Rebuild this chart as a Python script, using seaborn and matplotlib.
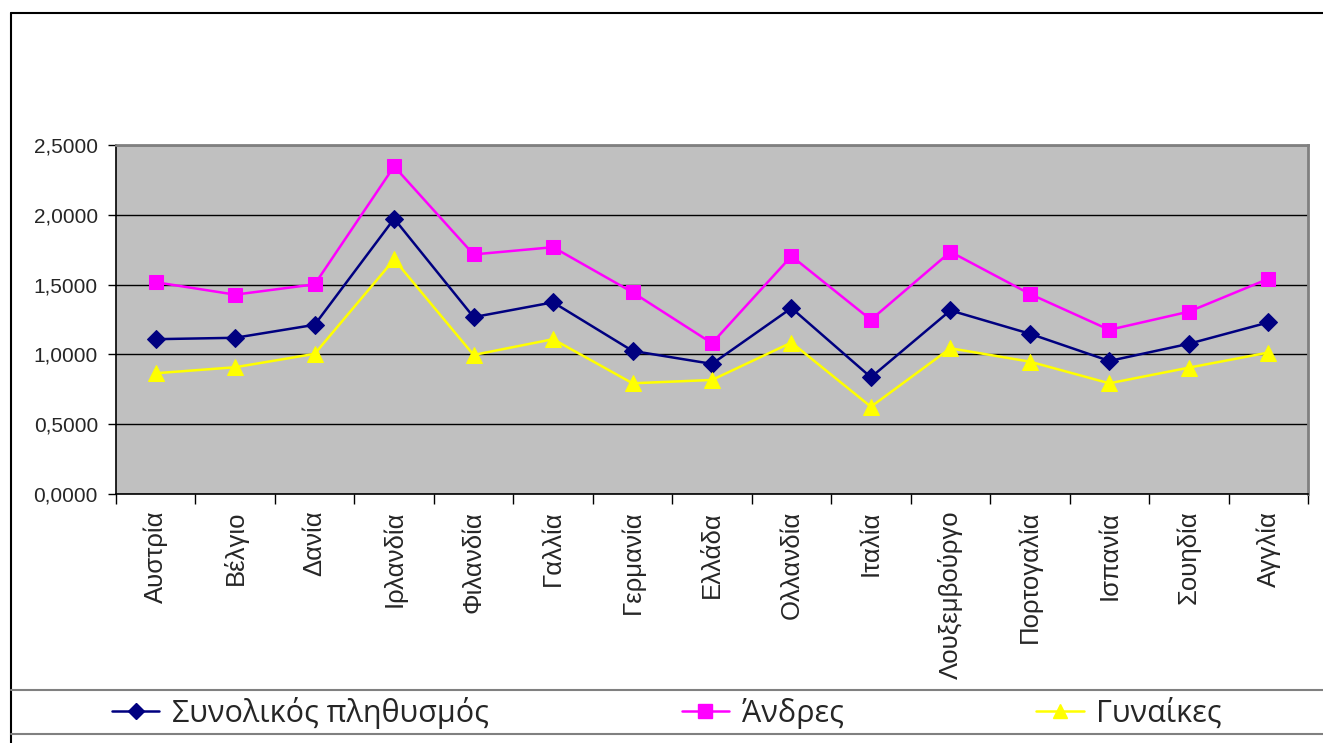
import matplotlib
matplotlib.use("Agg")
import matplotlib.pyplot as plt
import seaborn as sns
import pandas as pd
from matplotlib.lines import Line2D
from matplotlib.ticker import FuncFormatter

countries = ["Αυστρία", "Βέλγιο", "Δανία", "Ιρλανδία", "Φιλανδία", "Γαλλία",
             "Γερμανία", "Ελλάδα", "Ολλανδία", "Ιταλία", "Λουξεμβούργο",
             "Πορτογαλία", "Ισπανία", "Σουηδία", "Αγγλία"]
total = [1.109, 1.119, 1.212, 1.972, 1.267, 1.373, 1.025, 0.932, 1.332, 0.836,
         1.315, 1.148, 0.953, 1.076, 1.229]
men = [1.517, 1.428, 1.502, 2.347, 1.716, 1.768, 1.445, 1.080, 1.704, 1.248,
       1.735, 1.433, 1.176, 1.306, 1.541]
women = [0.865, 0.908, 1.004, 1.680, 0.996, 1.109, 0.793, 0.817, 1.085, 0.625,
         1.044, 0.948, 0.793, 0.905, 1.013]
series_names = ["Συνολικός πληθυσμός", "Άνδρες", "Γυναίκες"]
y_ticks = [0.0, 0.5, 1.0, 1.5, 2.0, 2.5]

sns.set_theme(style="white")
plt.rcParams['font.family'] = ['Liberation Sans', 'DejaVu Sans']

rows = []
for name, vals in zip(series_names, [total, men, women]):
    for i, (c, v) in enumerate(zip(countries, vals)):
        rows.append({"idx": i, "country": c, "value": v, "series": name})
df = pd.DataFrame(rows)

colors = {"Συνολικός πληθυσμός": "#000080", "Άνδρες": "#FF00FF", "Γυναίκες": "#FFFF00"}
markers = {"Συνολικός πληθυσμός": "D", "Άνδρες": "s", "Γυναίκες": "^"}
msizes = {"Συνολικός πληθυσμός": 9.5, "Άνδρες": 10.5, "Γυναίκες": 11.5}

fig = plt.figure(figsize=(13.23, 7.43), dpi=100)
ax = fig.add_axes([116/1323, 1-494/743, (1308-116)/1323, (494-145)/743])
ax.set_facecolor("#C0C0C0")

for name in series_names:
    sub = df[df.series == name]
    sns.lineplot(data=sub, x="idx", y="value", ax=ax, color=colors[name],
                 marker=markers[name], markersize=msizes[name],
                 markeredgecolor=colors[name], linewidth=1.8, legend=False)

ax.set_xlim(-0.5, len(countries) - 0.5)
ax.set_ylim(0, 2.5)
ax.set_yticks(y_ticks)
ax.yaxis.set_major_formatter(FuncFormatter(lambda v, p: f"{v:.4f}".replace(".", ",")))
ax.set_xticks(range(len(countries)))
ax.set_xticklabels(countries, rotation=90, fontsize=18.5)
ax.set_xticks([i - 0.5 for i in range(len(countries) + 1)], minor=True)
ax.tick_params(axis="x", which="major", length=0, pad=12)
ax.tick_params(axis="x", which="minor", length=7, width=1, color="black", direction="out", bottom=True)
ax.tick_params(axis="y", which="major", length=6, width=1, color="black", direction="out", left=True,
               labelsize=15, pad=7)
ax.set_xlabel("")
ax.set_ylabel("")
ax.grid(axis="y", color="black", linewidth=1)
ax.set_axisbelow(True)
for s in ["top", "right"]:
    ax.spines[s].set_color("#808080")
    ax.spines[s].set_linewidth(2)
for s in ["left", "bottom"]:
    ax.spines[s].set_color("black")
    ax.spines[s].set_linewidth(1.2)

# Outer frame and legend separators
fig.add_artist(Line2D([11/1323, 11/1323], [0, 1-13/743], color="black", linewidth=1.5, transform=fig.transFigure))
fig.add_artist(Line2D([11/1323, 1], [1-13/743, 1-13/743], color="black", linewidth=1.5, transform=fig.transFigure))
fig.add_artist(Line2D([11/1323, 1], [1-690/743, 1-690/743], color="#808080", linewidth=1.5, transform=fig.transFigure))
fig.add_artist(Line2D([11/1323, 1], [1-734/743, 1-734/743], color="#808080", linewidth=1.5, transform=fig.transFigure))

handles = [Line2D([], [], color=colors[n], marker=markers[n], markersize=msizes[n] - 1,
                  markeredgecolor=colors[n], linewidth=1.8) for n in series_names]
leg = fig.legend(handles, series_names, loc="center left", bbox_to_anchor=(112/1323, 1-713/743),
                 ncol=3, frameon=False, handlelength=1.55, handletextpad=0.42,
                 columnspacing=6.3, borderaxespad=0, borderpad=0,
                 prop={"family": ["Open Sans", "DejaVu Sans"], "size": 22})

fig.savefig("out.png", dpi=100)
